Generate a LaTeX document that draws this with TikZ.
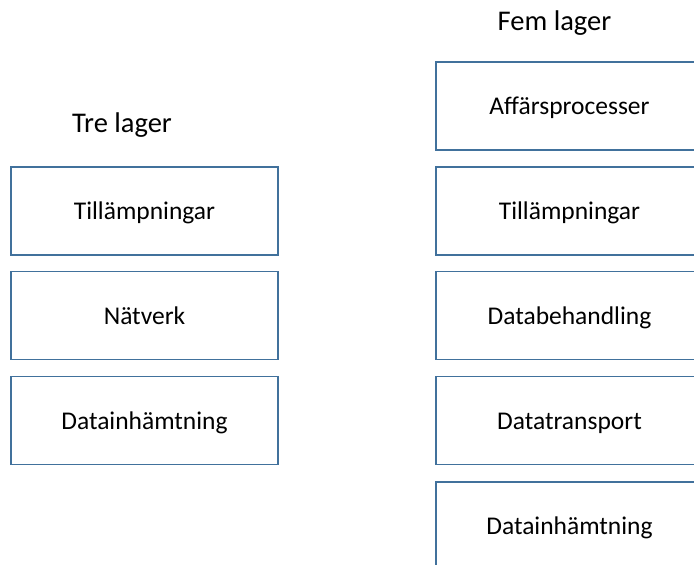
\documentclass[tikz,border=0pt]{standalone}
\usepackage{fontspec}
\setmainfont{Carlito}
\definecolor{boxline}{HTML}{41719C}
\tikzset{
  layerbox/.style={draw=boxline, line width=1.7pt, fill=white, rectangle, minimum width=267pt, minimum height=88pt, inner sep=0pt, text height=22pt, text depth=5pt, font=\fontsize{25.5}{30}\selectfont},
  titletext/.style={font=\fontsize{28.5}{34}\selectfont, inner sep=0pt}
}
\begin{document}
\begin{tikzpicture}[x=1pt,y=-1pt]
\clip (0,0) rectangle (694,565);
\fill[white] (0,0) rectangle (694,565);
\node[titletext] (t3) at (122,125.5) {Tre lager};
\node[titletext] (t5) at (554.5,23.5) {Fem lager};
\node[layerbox] (l1) at (144.5,211) {Tillämpningar};
\node[layerbox] (l2) at (144.5,315.5) {Nätverk};
\node[layerbox] (l3) at (144.5,420.5) {Datainhämtning};
\node[layerbox] (r1) at (569.5,106) {Affärsprocesser};
\node[layerbox] (r2) at (569.5,211) {Tillämpningar};
\node[layerbox] (r3) at (569.5,315.5) {Databehandling};
\node[layerbox] (r4) at (569.5,420.5) {Datatransport};
\node[layerbox] (r5) at (569.5,526) {Datainhämtning};
\end{tikzpicture}
\end{document}
